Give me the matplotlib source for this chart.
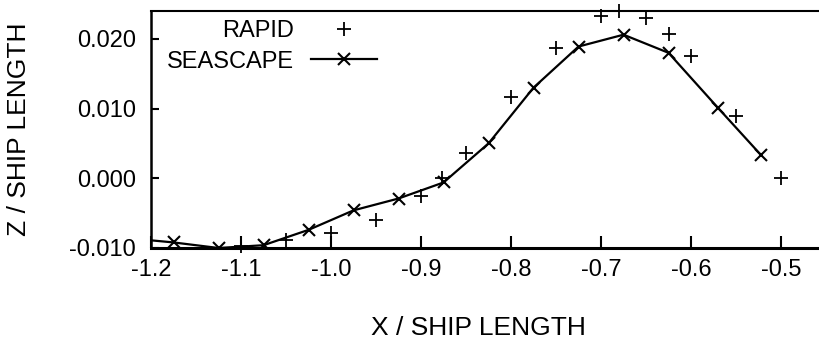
import matplotlib
matplotlib.use('Agg')
import matplotlib.pyplot as plt

plt.rcParams['font.family'] = ['Liberation Sans', 'DejaVu Sans']

# SEASCAPE (line with x markers)
sea_x = [-1.225, -1.175, -1.125, -1.075, -1.025, -0.975, -0.925, -0.875,
         -0.825, -0.775, -0.725, -0.675, -0.625, -0.570, -0.522]
sea_z = [-0.0086, -0.0092, -0.0100, -0.0096, -0.0074, -0.0046, -0.0029, -0.0006,
         0.0050, 0.0130, 0.0189, 0.0206, 0.0180, 0.0101, 0.0033]

# RAPID (+ markers)
rapid_x = [-1.10, -1.05, -1.00, -0.95, -0.90, -0.877, -0.85, -0.80,
           -0.75, -0.70, -0.68, -0.65, -0.625, -0.60, -0.55, -0.50]
rapid_z = [-0.0097, -0.0089, -0.0079, -0.0060, -0.0026, 0.0001, 0.0037, 0.0116,
           0.0187, 0.0233, 0.0240, 0.0230, 0.0207, 0.0176, 0.0090, 0.0001]

xticks = [-1.2, -1.1, -1.0, -0.9, -0.8, -0.7, -0.6, -0.5]
yticks = [-0.010, 0.000, 0.010, 0.020]

fig = plt.figure(figsize=(8.19, 3.49), dpi=100)
ax = fig.add_axes([151/819, 101/349, 668/819, 237/349])

ax.plot(rapid_x, rapid_z, linestyle='none', marker='+', color='black',
        markersize=10, markeredgewidth=1.3, label='RAPID', clip_on=False)
ax.plot(sea_x, sea_z, color='black', linewidth=1.6, marker='x',
        markersize=9, markeredgewidth=1.5, label='SEASCAPE')

ax.set_xlim(-1.2, -0.4578)
ax.set_ylim(-0.010, 0.024)
ax.set_xticks(xticks)
ax.set_xticklabels(['%.1f' % v for v in xticks])
ax.set_yticks(yticks)
ax.set_yticklabels(['%.3f' % v for v in yticks])

ax.tick_params(axis='x', direction='in', length=9, width=1.5, labelsize=17, pad=8)
ax.tick_params(axis='y', direction='in', length=6, width=1.5, labelsize=17, pad=11)
ax.spines['right'].set_visible(False)
ax.spines['top'].set_linewidth(1.5)
ax.spines['left'].set_linewidth(1.8)
ax.spines['bottom'].set_linewidth(2.2)

ax.set_xlabel('X / SHIP LENGTH', fontsize=19)
ax.xaxis.set_label_coords(0.4895, -0.285)
ax.set_ylabel('Z / SHIP LENGTH', fontsize=19)
ax.yaxis.set_label_coords(-0.18, 0.5)

ax.legend(loc='upper left', bbox_to_anchor=(0.024, 0.96), frameon=False,
          markerfirst=False, fontsize=17, handlelength=2.8, handletextpad=0.7,
          borderpad=0, borderaxespad=0, labelspacing=0.35)

fig.savefig('out.png', dpi=100)
